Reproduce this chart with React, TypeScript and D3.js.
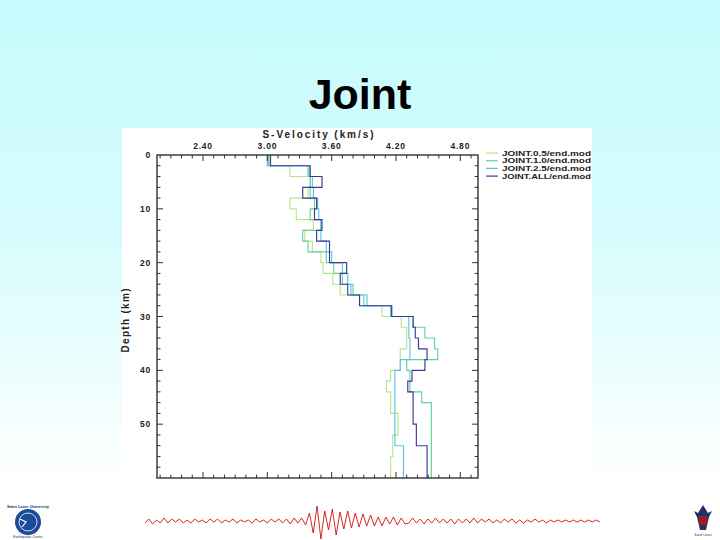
import React from "react";
import * as d3 from "d3";

// ---- data ----
const layerTops = [0, 2, 4, 6, 8, 10, 12, 14, 16, 18, 20, 22, 24, 26, 28, 30, 32, 34, 36, 38, 40, 42, 44, 46, 48, 50, 52, 54, 56, 58];
const maxDepth = 60;

const vel05 = [3.02, 3.21, 3.40, 3.38, 3.21, 3.27, 3.43, 3.35, 3.42, 3.50, 3.52, 3.61, 3.68, 3.86, 4.07, 4.25, 4.30, 4.30, 4.24, 4.24, 4.15, 4.11, 4.15, 4.15, 4.22, 4.22, 4.17, 4.17, 4.15, 4.15];
const vel10 = [3.01, 3.38, 3.42, 3.40, 3.44, 3.40, 3.50, 3.33, 3.38, 3.55, 3.62, 3.70, 3.80, 3.90, 4.15, 4.36, 4.47, 4.56, 4.59, 4.30, 4.33, 4.33, 4.44, 4.53, 4.53, 4.53, 4.53, 4.53, 4.53, 4.53];
const vel25 = [3.00, 3.39, 3.40, 3.43, 3.47, 3.48, 3.50, 3.50, 3.55, 3.60, 3.70, 3.75, 3.78, 3.93, 4.16, 4.32, 4.32, 4.33, 4.33, 4.24, 4.19, 4.19, 4.19, 4.19, 4.19, 4.19, 4.19, 4.27, 4.27, 4.27];
const velAll = [3.03, 3.40, 3.51, 3.33, 3.46, 3.44, 3.51, 3.46, 3.58, 3.58, 3.74, 3.68, 3.75, 3.86, 4.16, 4.36, 4.38, 4.41, 4.49, 4.47, 4.35, 4.31, 4.36, 4.36, 4.36, 4.39, 4.39, 4.49, 4.49, 4.49];

const seriesNames = ["JOINT.0.5/end.mod", "JOINT.1.0/end.mod", "JOINT.2.5/end.mod", "JOINT.ALL/end.mod"];
const seriesValues = [vel05, vel10, vel25, velAll];
const seriesColors = ["#b8e68e", "#62d49c", "#5cc4e2", "#3a3a98"];

const xTickValues = [2.4, 3.0, 3.6, 4.2, 4.8];
const xTickLabels = ["2.40", "3.00", "3.60", "4.20", "4.80"];
const yTickValues = [0, 10, 20, 30, 40, 50];
const yTickLabels = ["0", "10", "20", "30", "40", "50"];

// decorative seismogram amplitudes (bottom strip)
const seismo = [2, -2, 3, -1, 2, -3, 2, -2, 1, -2, 2, -1, 2, -2, 1, -1, 2, -2, 1, -2, 2, -1, 1, -2, 2, -1, 1, -1, 2, -2, 1, -1, 2, -2, 1, -2, 2, -2, 3, -3, 2, -3, 4,
  -8, 12, -15, 18, -10, 9, -12, 14, -9, 8, -10, 7, -8,
  6, -7, 5, -6, 5, -4, 5, -4, 3, -4, 4, -3, 3,
  2, -3, 2, -2, 3, -2, 2, -3, 2, -2, 2, -2, 3, -2, 2, -2, 2, -3, 2, -2, 1, -2, 2, -1, 2, -2, 1, -2, 2, -1, 2, -1, 1, -2, 1, -1, 2, -1, 1, -1, 1, -1, 1, -1, 1, -1, 1, -1, 1, -1, 1];

export default function App() {
  const W = 720, H = 540;
  const x = d3.scaleLinear().domain([2.4, 4.8]).range([203, 460.3]);
  const y = d3.scaleLinear().domain([0, maxDepth]).range([155, 478]);
  const fx0 = 157, fx1 = 478;
  const fy0 = y(0), fy1 = y(maxDepth);

  const line = d3.line<[number, number]>().x((d) => x(d[0])).y((d) => y(d[1]));
  const profile = (vals: number[]) => {
    const pts: [number, number][] = [];
    vals.forEach((v, i) => {
      const top = layerTops[i];
      const bot = i + 1 < layerTops.length ? layerTops[i + 1] : maxDepth;
      pts.push([v, top]);
      pts.push([v, bot]);
    });
    return line(pts) || "";
  };

  const xMinor = d3.range(20, 50).map((k) => k / 10).filter((v) => x(v) > fx0 + 1 && x(v) < fx1 - 1);
  const yMinor = d3.range(2, 60, 2);

  const sx = d3.scaleLinear().domain([0, seismo.length - 1]).range([145, 600]);
  const seisLine = d3.line<number>().x((_, i) => sx(i)).y((d) => 521 + d);

  const font = "'Liberation Sans', Arial, sans-serif";

  return (
    <div style={{ position: "fixed", left: 0, top: 0 }}>
      <svg width={W} height={H} style={{ display: "block" }}>
        <defs>
          <linearGradient id="bg" x1="0" y1="0" x2="0" y2="1">
            <stop offset="0" stopColor="#c6fbfd" />
            <stop offset="0.45" stopColor="#d8fcfd" />
            <stop offset="0.9" stopColor="#ffffff" />
          </linearGradient>
        </defs>
        <rect x={0} y={0} width={W} height={H} fill="url(#bg)" />

        <text x={360} y={109} textAnchor="middle" fontFamily={font} fontWeight="bold" fontSize={43} fill="#000">Joint</text>

        <rect x={122} y={128} width={470} height={352} fill="#ffffff" />

        <text x={318} y={138} textAnchor="middle" fontFamily={font} fontWeight="bold" fontSize={10} fill="#222" textLength={111} lengthAdjust="spacing">S-Velocity (km/s)</text>
        <text transform={`translate(129,${(fy0 + fy1) / 2 + 4}) rotate(-90)`} textAnchor="middle" fontFamily={font} fontWeight="bold" fontSize={10} fill="#222" textLength={64} lengthAdjust="spacing">Depth (km)</text>

        {xTickValues.map((v, i) => (
          <text key={"xl" + i} x={x(v)} y={149} textAnchor="middle" fontFamily={font} fontWeight="bold" fontSize={8.5} fill="#222" letterSpacing={0.8}>{xTickLabels[i]}</text>
        ))}
        {yTickValues.map((v, i) => (
          <text key={"yl" + i} x={151} y={y(v) + 3} textAnchor="end" fontFamily={font} fontWeight="bold" fontSize={8.5} fill="#222" letterSpacing={0.8}>{yTickLabels[i]}</text>
        ))}

        {seriesValues.map((vals, i) => (
          <path key={"p" + i} d={profile(vals)} fill="none" stroke={seriesColors[i]} strokeWidth={1.15} />
        ))}

        <rect x={fx0} y={fy0} width={fx1 - fx0} height={fy1 - fy0} fill="none" stroke="#333" strokeWidth={1.4} />
        {xMinor.map((v, i) => {
          const major = xTickValues.some((t) => Math.abs(t - v) < 1e-6);
          const len = major ? 6 : 3.5;
          return (
            <g key={"xt" + i} stroke="#333" strokeWidth={1}>
              <line x1={x(v)} x2={x(v)} y1={fy0} y2={fy0 + len} />
              <line x1={x(v)} x2={x(v)} y1={fy1} y2={fy1 - len} />
            </g>
          );
        })}
        {yMinor.map((d, i) => {
          const major = d % 10 === 0;
          const len = major ? 6 : 3.5;
          return (
            <g key={"yt" + i} stroke="#333" strokeWidth={1}>
              <line x1={fx0} x2={fx0 + len} y1={y(d)} y2={y(d)} />
              <line x1={fx1} x2={fx1 - len} y1={y(d)} y2={y(d)} />
            </g>
          );
        })}

        {seriesNames.map((n, i) => (
          <g key={"lg" + i}>
            <line x1={486} x2={498} y1={153 + i * 7.7} y2={153 + i * 7.7} stroke={seriesColors[i]} strokeWidth={1.2} />
            <text x={502} y={155.6 + i * 7.7} fontFamily={font} fontWeight="bold" fontSize={7.4} fill="#222" textLength={89} lengthAdjust="spacingAndGlyphs">{n}</text>
          </g>
        ))}

        <path d={seisLine(seismo) || ""} fill="none" stroke="#cc1111" strokeWidth={0.9} />

        <text x={28} y={508} textAnchor="middle" fontFamily={font} fontSize={4} fontWeight="bold" fill="#223366">Saint Louis University</text>
        <circle cx={28} cy={522} r={13} fill="#1a4a9a" />
        <circle cx={28} cy={522} r={9} fill="none" stroke="#ffffff" strokeWidth={0.8} />
        <path d="M20,519 L26,522 L22,527" fill="none" stroke="#ffffff" strokeWidth={1.2} />
        <text x={28} y={538} textAnchor="middle" fontFamily={font} fontSize={3.5} fill="#223366">Earthquake Center</text>

        <path d="M703,505 L708,513 L712,511 L709,517 L706,530 L700,530 L697,517 L694,511 L698,513 Z" fill="#23306e" />
        <rect x={699} y={516} width={8} height={9} fill="#9a2020" />
        <text x={703} y={536} textAnchor="middle" fontFamily={font} fontSize={3.5} fill="#333">Saint Louis</text>
      </svg>
    </div>
  );
}
